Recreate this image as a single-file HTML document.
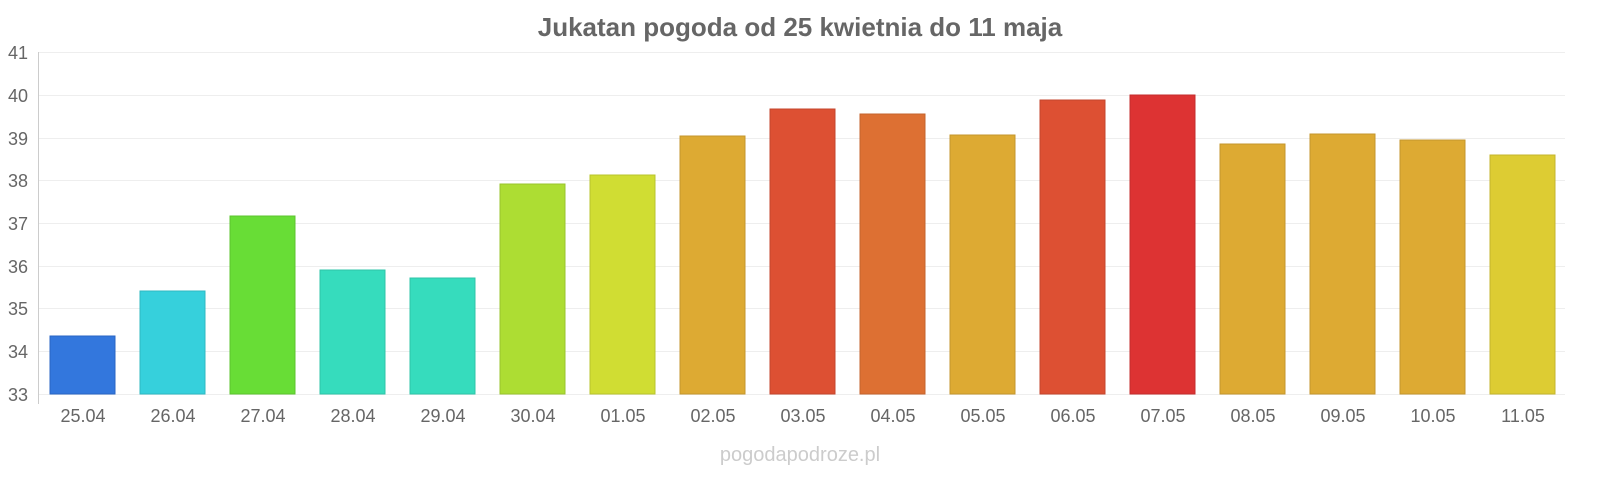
<!DOCTYPE html>
<html><head><meta charset="utf-8"><style>
body{margin:0;background:#fff;}
svg{display:block;font-family:"Liberation Sans",sans-serif;}
</style></head><body>
<svg width="1600" height="480" viewBox="0 0 1600 480" xmlns="http://www.w3.org/2000/svg">
<text x="800" y="36" text-anchor="middle" font-size="26" font-weight="bold" fill="#666">Jukatan pogoda od 25 kwietnia do 11 maja</text>
<g stroke="#eee" stroke-width="1">
<line x1="38" x2="1565" y1="52.5" y2="52.5"/><line x1="38" x2="1565" y1="95.5" y2="95.5"/>
<line x1="38" x2="1565" y1="138.5" y2="138.5"/><line x1="38" x2="1565" y1="180.5" y2="180.5"/>
<line x1="38" x2="1565" y1="223.5" y2="223.5"/><line x1="38" x2="1565" y1="266.5" y2="266.5"/>
<line x1="38" x2="1565" y1="308.5" y2="308.5"/><line x1="38" x2="1565" y1="351.5" y2="351.5"/>
<line x1="38" x2="1565" y1="394.5" y2="394.5"/>
</g>
<line x1="38.5" x2="38.5" y1="52" y2="404" stroke="#ccc"/>
<g font-size="18" fill="#666" text-anchor="end">
<text x="28" y="59">41</text><text x="28" y="102">40</text><text x="28" y="145">39</text>
<text x="28" y="187">38</text><text x="28" y="230">37</text><text x="28" y="273">36</text>
<text x="28" y="315">35</text><text x="28" y="358">34</text><text x="28" y="401">33</text>
</g>
<g stroke-width="1">
<rect x="50" y="336" width="65" height="58" fill="#3377dd" stroke="#2a66c4"/>
<rect x="140" y="291" width="65" height="103" fill="#36d0dc" stroke="#2fb8c2"/>
<rect x="230" y="216" width="65" height="178" fill="#68dd36" stroke="#5cc42f"/>
<rect x="320" y="270" width="65" height="124" fill="#36dcbd" stroke="#2fc4a8"/>
<rect x="410" y="278" width="65" height="116" fill="#36dcbd" stroke="#2fc4a8"/>
<rect x="500" y="184" width="65" height="210" fill="#addd33" stroke="#99c42d"/>
<rect x="590" y="175" width="65" height="219" fill="#d0dd33" stroke="#b8c42d"/>
<rect x="680" y="136" width="65" height="258" fill="#ddaa33" stroke="#c4962d"/>
<rect x="770" y="109" width="65" height="285" fill="#dd5033" stroke="#c4462d"/>
<rect x="860" y="114" width="65" height="280" fill="#dd7033" stroke="#c4632d"/>
<rect x="950" y="135" width="65" height="259" fill="#ddaa33" stroke="#c4962d"/>
<rect x="1040" y="100" width="65" height="294" fill="#dd5033" stroke="#c4462d"/>
<rect x="1130" y="95" width="65" height="299" fill="#dd3333" stroke="#c42d2d"/>
<rect x="1220" y="144" width="65" height="250" fill="#ddaa33" stroke="#c4962d"/>
<rect x="1310" y="134" width="65" height="260" fill="#ddaa33" stroke="#c4962d"/>
<rect x="1400" y="140" width="65" height="254" fill="#ddaa33" stroke="#c4962d"/>
<rect x="1490" y="155" width="65" height="239" fill="#ddcc33" stroke="#c4b52d"/>
</g>
<g font-size="18" fill="#666" text-anchor="middle">
<text x="83" y="422">25.04</text><text x="173" y="422">26.04</text><text x="263" y="422">27.04</text>
<text x="353" y="422">28.04</text><text x="443" y="422">29.04</text><text x="533" y="422">30.04</text>
<text x="623" y="422">01.05</text><text x="713" y="422">02.05</text><text x="803" y="422">03.05</text>
<text x="893" y="422">04.05</text><text x="983" y="422">05.05</text><text x="1073" y="422">06.05</text>
<text x="1163" y="422">07.05</text><text x="1253" y="422">08.05</text><text x="1343" y="422">09.05</text>
<text x="1433" y="422">10.05</text><text x="1523" y="422">11.05</text>
</g>
<text x="800" y="461" text-anchor="middle" font-size="20" fill="#ccc">pogodapodroze.pl</text>
</svg>
</body></html>
